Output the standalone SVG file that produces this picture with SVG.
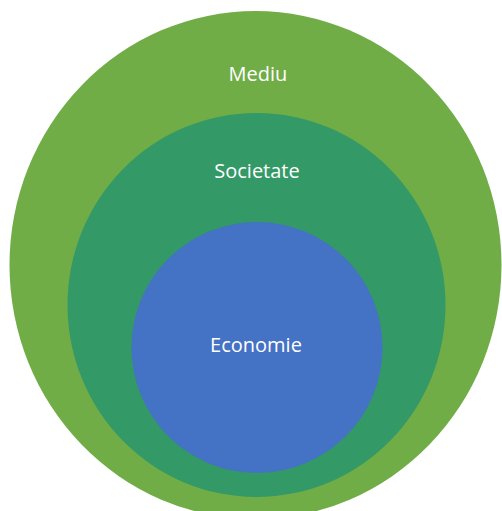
<svg xmlns="http://www.w3.org/2000/svg" width="502" height="511" viewBox="0 0 502 511">
<style>
text{font-family:"Open Sans","Noto Sans",sans-serif;font-size:20px;fill:#ffffff;text-anchor:middle}
</style>
<rect width="502" height="511" fill="#ffffff"/>
<g id="mediu">
<ellipse cx="255.5" cy="265" rx="246" ry="254" fill="#70ad47"/>
<text x="258" y="81">Mediu</text>
</g>
<g id="societate">
<ellipse cx="256.5" cy="305" rx="189" ry="192" fill="#339966"/>
<text x="257" y="178">Societate</text>
</g>
<g id="economie">
<ellipse cx="257" cy="347.5" rx="125.5" ry="125.5" fill="#4472c4"/>
<text x="256" y="352">Economie</text>
</g>
<g id="connectors"/>
</svg>
